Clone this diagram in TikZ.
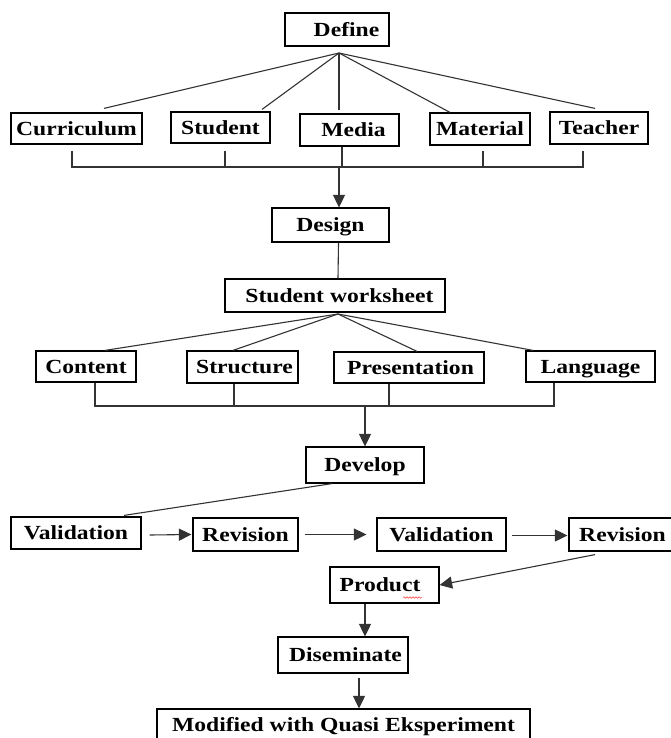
\documentclass[tikz,border=0pt]{standalone}
\usepackage{fontspec}
\setmainfont{Liberation Serif}[FakeStretch=1.18]
\usetikzlibrary{arrows.meta,decorations.pathmorphing}
\begin{document}
\begin{tikzpicture}[x=1pt,y=-1pt,
  box/.style={draw=black, line width=1.2pt, inner sep=0pt,
    font=\fontsize{20}{22}\selectfont\bfseries, text height=13.3pt, text depth=0pt},
  conn/.style={line width=1.1pt, draw=black!80},
  arr/.style={conn, -{Triangle[length=12.5pt,width=12pt]}}]
\useasboundingbox (0,0) rectangle (671,738);
\clip (0,0) rectangle (671,738);
\fill[white] (0,0) rectangle (671,738);

% boxes
\node[box, minimum width=104pt, minimum height=33pt] (def) at (337,29.5) {\hspace*{19pt}Define};
\node[box, minimum width=131pt, minimum height=31pt] (cur) at (76.5,128.5) {Curriculum};
\node[box, minimum width=99pt, minimum height=31pt] (stu) at (220.5,127.5) {Student};
\node[box, minimum width=99pt, minimum height=32pt] (med) at (349.5,130) {\hspace*{8pt}Media};
\node[box, minimum width=100pt, minimum height=32pt] (mat) at (480,129) {Material};
\node[box, minimum width=98pt, minimum height=32pt] (tea) at (599,128) {Teacher};
\node[box, minimum width=117pt, minimum height=34pt] (des) at (330.5,225) {Design};
\node[box, minimum width=220pt, minimum height=33pt] (sw) at (335,295.5) {\hspace*{9pt}Student worksheet};
\node[box, minimum width=100pt, minimum height=31pt] (con) at (86,366.5) {Content};
\node[box, minimum width=111pt, minimum height=32pt] (str) at (242.5,367) {\hspace*{4pt}Structure};
\node[box, minimum width=150pt, minimum height=31pt] (pre) at (409,367.5) {\hspace*{3pt}Presentation};
\node[box, minimum width=129pt, minimum height=31pt] (lan) at (590.5,366.5) {Language};
\node[box, minimum width=118pt, minimum height=36pt] (dev) at (365,465) {Develop};
\node[box, minimum width=130pt, minimum height=32pt] (val1) at (76,533) {Validation};
\node[box, minimum width=105pt, minimum height=33pt] (rev1) at (245.5,534.5) {Revision};
\node[box, minimum width=129pt, minimum height=33pt] (val2) at (441.5,534.5) {Validation};
\node[box, minimum width=107pt, minimum height=33pt] (rev2) at (622.5,534.5) {Revision};
\node[box, minimum width=109pt, minimum height=36pt] (prod) at (384.5,585) {Product\hspace*{9pt}};
\node[box, minimum width=130pt, minimum height=36pt] (dis) at (343,655) {\hspace*{5pt}Diseminate};
\node[box, minimum width=373pt, minimum height=31pt] (mod) at (343.5,724.5) {Modified with Quasi Eksperiment};

% spell-check squiggle under "uct"
\draw[red!80, line width=0.5pt, decorate, decoration={snake, amplitude=0.8pt, segment length=3pt}] (403,597.5) -- (422,597.5);

% Define fan
\coordinate (hub1) at (339,53);
\draw[conn] (hub1) -- ([xshift=27.5pt,yshift=4pt]cur.north);
\draw[conn] (hub1) -- ([xshift=41.5pt,yshift=2pt]stu.north);
\draw[conn] (hub1) -- ([xshift=-10.5pt,yshift=3pt]med.north);
\draw[conn] (hub1) -- ([xshift=-30pt,yshift=0pt]mat.north);
\draw[conn] (hub1) -- ([xshift=-4pt,yshift=3pt]tea.north);

% bus 1
\coordinate (bus1) at (339,167);
\coordinate (s1) at ([xshift=-4.5pt,yshift=-6pt]cur.south);
\coordinate (s2) at ([xshift=4.5pt,yshift=-7pt]stu.south);
\coordinate (s3) at ([xshift=-7.5pt]med.south);
\coordinate (s4) at ([xshift=3pt,yshift=-5pt]mat.south);
\coordinate (s5) at ([xshift=-16pt,yshift=-6pt]tea.south);
\draw[conn] (s1) |- (s5 |- bus1) -- (s5);
\draw[conn] (s2) -- (s2 |- bus1);
\draw[conn] (s3) -- (s3 |- bus1);
\draw[conn] (s4) -- (s4 |- bus1);
\draw[arr] (bus1) -- (bus1 |- des.north);

% Design -> Student worksheet
\draw[conn] ([xshift=8pt]des.south) -- ([xshift=3pt]sw.north);

% Student worksheet fan
\coordinate (hub2) at (338,314);
\draw[conn] (hub2) -- ([xshift=19pt]con.north);
\draw[conn] (hub2) -- ([xshift=-9.5pt]str.north);
\draw[conn] (hub2) -- ([xshift=8pt]pre.north);
\draw[conn] (hub2) -- ([xshift=-57.5pt]lan.north);

% bus 2
\coordinate (bus2) at (365,406);
\coordinate (t1) at ([xshift=9pt]con.south);
\coordinate (t2) at ([xshift=-8.5pt]str.south);
\coordinate (t3) at ([xshift=-20pt]pre.south);
\coordinate (t4) at ([xshift=-36.5pt]lan.south);
\draw[conn] (t1) |- (t4 |- bus2) -- (t4);
\draw[conn] (t2) -- (t2 |- bus2);
\draw[conn] (t3) -- (t3 |- bus2);
\draw[arr] (bus2) -- (dev.north);

% Develop -> Validation
\draw[conn] ([xshift=-33pt]dev.south) -- ([xshift=48pt,yshift=1pt]val1.north);

% row 3 arrows
\draw[arr] ([xshift=8pt,yshift=-2pt]val1.east) -- ([xshift=-1pt]rev1.west);
\draw[arr] ([xshift=6pt]rev1.east) -- ([xshift=-10pt]val2.west);
\draw[arr] ([xshift=5pt,yshift=-1pt]val2.east) -- ([xshift=-1pt,yshift=-1pt]rev2.west);
\draw[arr] ([xshift=-27.5pt,yshift=-3pt]rev2.south) -- (prod.east);

% bottom chain
\draw[arr] ([xshift=-19.5pt]prod.south) -- ([xshift=22pt]dis.north);
\draw[arr] ([xshift=16pt,yshift=-4pt]dis.south) -- ([xshift=15.5pt]mod.north);
\end{tikzpicture}
\end{document}
